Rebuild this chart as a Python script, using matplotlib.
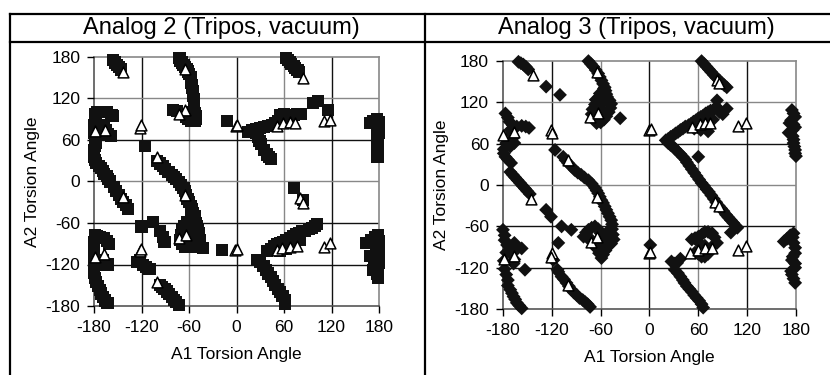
import numpy as np
import matplotlib
matplotlib.use("Agg")
import matplotlib.pyplot as plt
from matplotlib.lines import Line2D

plt.rcParams['font.family'] = ['Liberation Sans', 'DejaVu Sans']
plt.rcParams['axes.unicode_minus'] = False

titles = ["Analog 2 (Tripos, vacuum)", "Analog 3 (Tripos, vacuum)"]
ticks = [-180, -120, -60, 0, 60, 120, 180]

# Analog 2: filled squares (sampled conformations)
a2_squares = np.array([
    [-156, 176], [-154, 172], [-151, 169], [-148, 165], [-146, 162],
    [-72, 178], [-71, 175], [-69, 172], [-67, 169], [-65, 166], [-63, 163], [-61, 159],
    [-60, 155], [-58, 151], [-57, 147], [-57, 143], [-56, 139], [-56, 135], [-55, 131],
    [-55, 127], [-55, 123], [-54, 119], [-54, 115], [-54, 111], [-54, 107], [-54, 103],
    [-52, 99], [-51, 95], [-51, 91], [-53, 88], [-57, 88], [-61, 90], [-64, 93], [-60, 96],
    [-57, 100], [-80, 104], [-75, 102],
    [63, 178], [65, 176], [67, 173], [69, 170], [72, 167], [74, 164], [77, 161], [79, 158],
    [-179, 98], [-176, 100], [-172, 101], [-168, 101], [-164, 100], [-158, 96], [-156, 95],
    [-177, 94], [-179, 88], [-180, 82], [-180, 76], [-180, 70], [-179, 64], [-177, 60],
    [-172, 70], [-168, 82], [-165, 75], [-162, 68], [-159, 66], [-178, 56], [-179, 51],
    [-180, 46], [-180, 41], [-180, 36], [-179, 31], [-177, 27], [-174, 23], [-171, 19],
    [-169, 15], [-167, 11], [-164, 8], [-162, 4], [-160, 0], [-155, -8], [-152, -14],
    [-149, -19], [-146, -25], [-143, -29], [-140, -34], [-137, -40],
    [-116, 51], [-120, -65], [-105, -58], [-97, -71], [-93, -80], [-91, -88],
    [-101, 30], [-97, 26], [-93, 22], [-90, 18], [-86, 14], [-82, 10], [-79, 6], [-76, 3],
    [-73, -1], [-70, -5], [-67, -10], [-65, -14],
    [-64, -20], [-62, -25], [-60, -30], [-58, -35], [-56, -40], [-55, -45], [-53, -50],
    [-52, -55], [-51, -60], [-50, -65], [-49, -70], [-48, -75], [-47, -80], [-46, -85],
    [-48, -90], [-52, -94], [-56, -95], [-60, -95], [-65, -94], [-69, -90], [-71, -84],
    [-70, -77], [-69, -70], [-66, -64], [-62, -58], [-58, -52], [-58, -64], [-55, -72],
    [-57, -82], [-61, -88], [-42, -96],
    [-179, -78], [-176, -79], [-172, -80], [-168, -82], [-164, -86], [-161, -91],
    [-180, -88], [-180, -96], [-180, -104], [-180, -112], [-177, -117], [-172, -119],
    [-167, -121], [-163, -120], [-169, -113], [-180, -124], [-180, -132], [-179, -139],
    [-177, -145], [-175, -151], [-173, -157], [-171, -162], [-169, -167], [-166, -172],
    [-163, -176],
    [-126, -117], [-122, -114], [-118, -121], [-114, -124], [-110, -126],
    [-97, -149], [-94, -152], [-91, -155], [-88, -159], [-85, -163], [-82, -167],
    [-79, -171], [-76, -174], [-73, -178],
    [-18, -99], [-12, 87],
    [15, 72], [20, 74], [25, 76], [30, 77], [35, 79], [40, 80], [45, 81], [49, 84],
    [53, 87], [57, 90], [61, 93], [65, 95], [69, 96], [73, 96], [77, 97], [81, 97],
    [55, 96], [60, 97], [25, 70], [27, 64], [29, 58], [31, 54], [35, 45], [38, 39],
    [41, 35], [43, 33],
    [97, 113], [103, 116], [116, 104],
    [168, 84], [172, 88], [177, 90], [180, 86], [180, 80], [178, 76], [180, 70], [177, 65],
    [177, 60], [179, 55], [179, 50], [177, 45], [179, 40], [178, 35],
    [72, -10], [84, -27],
    [26, -113], [30, -116], [34, -122], [37, -128], [40, -133], [43, -138], [46, -144],
    [49, -150], [52, -155], [55, -160], [58, -166], [61, -172], [61, -177],
    [39, -100], [43, -97], [47, -94], [51, -91], [55, -89], [59, -87], [63, -85], [67, -82],
    [71, -79], [75, -76], [79, -74], [83, -72], [87, -71], [91, -69], [95, -67], [99, -64],
    [102, -62], [55, -101], [62, -97], [68, -92], [74, -89], [80, -84],
    [164, -89], [170, -84], [175, -80], [179, -78], [180, -86], [178, -93], [180, -100],
    [168, -108], [176, -104], [178, -112], [180, -118], [174, -123], [173, -128],
    [178, -133], [179, -139],
])

# Analog 2: open triangles (reference conformations)
a2_triangles = np.array([
    [-143, 159], [-65, 162], [-65, 104], [-73, 97], [84, 150], [-179, 73], [-166, 75],
    [-122, 78], [-121, 82], [-101, 36], [-143, -22], [-65, -19], [-73, -82], [-64, -77],
    [-179, -109], [-167, -105], [-122, -101], [-121, -97], [-101, -145], [-2, -99],
    [1, -97], [-1, 80], [1, 82], [51, 80], [59, 84], [67, 86], [74, 85], [110, 87],
    [118, 89], [80, -24], [84, -31], [51, -99], [58, -96], [67, -94], [76, -93],
    [110, -94], [118, -89],
])

# Analog 3: filled diamonds
a3_diamonds = np.array([
    [-161, 179], [-158, 177], [-155, 175], [-152, 172], [-149, 168], [-127, 143], [-110, 131],
    [-75, 180], [-72, 176], [-69, 172], [-66, 167], [-63, 162], [-61, 157], [-59, 152],
    [-57, 147], [-55, 142], [-54, 137], [-53, 132], [-52, 128], [-49, 123], [-47, 118],
    [-48, 112], [-50, 106], [-53, 100], [-56, 95], [-60, 91], [-65, 90], [-68, 95],
    [-71, 103], [-70, 110], [-67, 117], [-66, 124], [-62, 128], [-59, 118], [-58, 108],
    [-61, 133], [-36, 97], [-56, 140], [-60, 111],
    [-177, 104], [-174, 98], [-172, 92], [-168, 87], [-163, 85], [-157, 86], [-152, 85],
    [-148, 83], [-171, 80], [-170, 75], [-168, 68], [-166, 61], [-171, 56], [-176, 61],
    [-179, 52], [-179, 46], [-177, 41], [-174, 37], [-170, 32],
    [-171, 19], [-168, 15], [-165, 11], [-162, 7], [-159, 3], [-156, -1], [-153, -5],
    [-150, -9], [-147, -13], [-127, -36], [-121, -46], [-108, -60], [-96, -65],
    [-112, -84], [-113, -123], [-118, -109],
    [-116, 51], [-106, 41], [-103, 36], [-100, 32], [-96, 27], [-92, 22], [-88, 18],
    [-84, 15], [-80, 11], [-75, 7], [-71, 2], [-67, -4], [-65, -8], [-63, -12], [-61, -17],
    [-59, -22], [-57, -26], [-55, -31], [-53, -36], [-51, -41], [-49, -46], [-47, -51],
    [-46, -57], [-46, -64], [-45, -72], [-44, -79], [-47, -85], [-51, -89], [-54, -95],
    [-57, -101], [-59, -106], [-62, -99], [-65, -92], [-68, -86], [-71, -80], [-76, -77],
    [-81, -75], [-78, -69], [-75, -65], [-71, -62], [-67, -60], [-63, -64], [-60, -70],
    [-57, -78], [-55, -86], [-52, -77], [-50, -66],
    [-180, -65], [-178, -73], [-178, -80], [-175, -87], [-172, -94], [-170, -100],
    [-176, -98], [-166, -84], [-162, -92], [-157, -92], [-166, -108], [-167, -114],
    [-153, -123], [-179, -110], [-178, -122], [-176, -130], [-174, -138], [-174, -146],
    [-171, -152], [-169, -157], [-167, -162], [-165, -166], [-163, -171], [-160, -175],
    [-157, -179],
    [-112, -126], [-108, -133], [-105, -137], [-102, -142], [-99, -147], [-96, -152],
    [-93, -156], [-89, -160], [-86, -164], [-82, -167], [-79, -170], [-76, -173], [-73, -177],
    [1, -87],
    [20, 65], [23, 67], [26, 70], [29, 72], [32, 75], [35, 77], [38, 80], [41, 82], [44, 85],
    [48, 87], [51, 89], [54, 92], [57, 94], [60, 97], [63, 99], [66, 101], [69, 104],
    [72, 106], [75, 108], [79, 110], [83, 113], [86, 106], [90, 103], [95, 111], [83, 123],
    [60, 88], [66, 90], [72, 92], [78, 95], [55, 82], [63, 80], [72, 78],
    [23, 61], [26, 58], [29, 56], [32, 52], [35, 48], [38, 45], [41, 41], [44, 37], [46, 33],
    [49, 28], [52, 23], [55, 18], [58, 13], [61, 8], [64, 3], [67, -1], [70, -6], [73, -10],
    [76, -15], [79, -20], [82, -25], [85, -30], [88, -34], [91, -38], [94, -43], [97, -47],
    [100, -51], [103, -55], [106, -59], [108, -62], [100, -69], [60, 41],
    [64, 180], [67, 176], [70, 172], [73, 168], [76, 164], [79, 160], [82, 156], [86, 152],
    [89, 148], [92, 145], [95, 142],
    [52, -79], [56, -77], [60, -75], [64, -72], [68, -68], [72, -68], [77, -70], [80, -76],
    [83, -84], [78, -88], [74, -95], [72, -100], [68, -104], [64, -104], [60, -100],
    [56, -98], [68, -88], [62, -85], [27, -111], [31, -114], [34, -113], [38, -107],
    [31, -123],
    [35, -128], [38, -133], [41, -138], [43, -142], [46, -147], [49, -151], [52, -155],
    [55, -160], [58, -164], [61, -168], [64, -173], [66, -178],
    [175, 109], [177, 104], [179, 99], [174, 94], [172, 90], [177, 88], [179, 84], [176, 80],
    [171, 76], [176, 71], [177, 66], [177, 61], [178, 56], [179, 51], [179, 46], [180, 42],
    [165, -82], [169, -78], [173, -73], [177, -70], [176, -76], [177, -84], [179, -91],
    [179, -99], [176, -104], [175, -109], [179, -114], [179, -120], [174, -125],
    [175, -130], [177, -136], [179, -142],
])

# Analog 3: open triangles
a3_triangles = np.array([
    [-143, 160], [-64, 164], [-73, 99], [-63, 104], [83, 153], [85, 148], [-180, 73],
    [-166, 77], [-121, 80], [-120, 76], [-100, 36], [-145, -20], [-65, -17], [-72, -82],
    [-64, -76], [-179, -108], [-166, -103], [-120, -99], [-121, -104], [-100, -145],
    [-1, 80], [2, 82], [-1, -99], [1, -97], [52, 85], [62, 88], [68, 90], [74, 90],
    [109, 86], [118, 90], [81, -24], [85, -31], [50, -99], [60, -94], [68, -92], [77, -92],
    [109, -94], [118, -89],
])

fig = plt.figure(figsize=(8.3, 3.75), dpi=100)

# table frame around the two panels
frame = dict(color='black', lw=1.6, transform=fig.transFigure)
fig.add_artist(Line2D([0.012, 1.0], [0.963, 0.963], **frame))
fig.add_artist(Line2D([0.012, 1.0], [0.888, 0.888], **frame))
fig.add_artist(Line2D([0.012, 0.012], [0.0, 0.963], **frame))
fig.add_artist(Line2D([0.512, 0.512], [0.0, 0.963], **frame))

ax2 = fig.add_axes([0.1133, 0.184, 0.3434, 0.664])
ax3 = fig.add_axes([0.606, 0.176, 0.353, 0.661])

vcol = {-120: '#111111', -60: '#888888', 0: '#111111', 60: '#888888', 120: '#111111'}
hcol = {120: '#888888', 60: '#111111', 0: '#888888', -60: '#111111', -120: '#111111'}

for ax in (ax2, ax3):
    for v, c in vcol.items():
        ax.axvline(v, color=c, lw=1.0, zorder=1)
    for h, c in hcol.items():
        ax.axhline(h, color=c, lw=1.0, zorder=1)
    ax.set_xlim(-180, 180)
    ax.set_ylim(-180, 180)
    ax.set_xticks(ticks)
    ax.set_yticks(ticks)
    ax.tick_params(direction='out', length=5, width=1, labelsize=12.5, pad=5)
    for s in ax.spines.values():
        s.set_color('#888888')
        s.set_linewidth(1.2)
        s.set_zorder(1)
    ax.spines['left'].set_color('#555555')
    ax.spines['bottom'].set_color('#555555')
    ax.set_xlabel("A1 Torsion Angle", fontsize=12.5, labelpad=9)
    ax.set_ylabel("A2 Torsion Angle", fontsize=12.5, labelpad=4)

ax2.scatter(a2_squares[:, 0], a2_squares[:, 1], marker='s', s=76, c='#111111',
            edgecolors='none', zorder=3, clip_on=False)
ax2.scatter(a2_triangles[:, 0], a2_triangles[:, 1], marker='^', s=60, c='white',
            edgecolors='black', linewidths=1.1, zorder=4, clip_on=False)

ax3.scatter(a3_diamonds[:, 0], a3_diamonds[:, 1], marker='D', s=50, c='#111111',
            edgecolors='none', zorder=3, clip_on=False)
ax3.scatter(a3_triangles[:, 0], a3_triangles[:, 1], marker='^', s=60, c='white',
            edgecolors='black', linewidths=1.1, zorder=4, clip_on=False)

fig.text(0.267, 0.925, titles[0], ha='center', va='center', fontsize=17)
fig.text(0.767, 0.925, titles[1], ha='center', va='center', fontsize=17)

fig.savefig("out.png", dpi=100)
